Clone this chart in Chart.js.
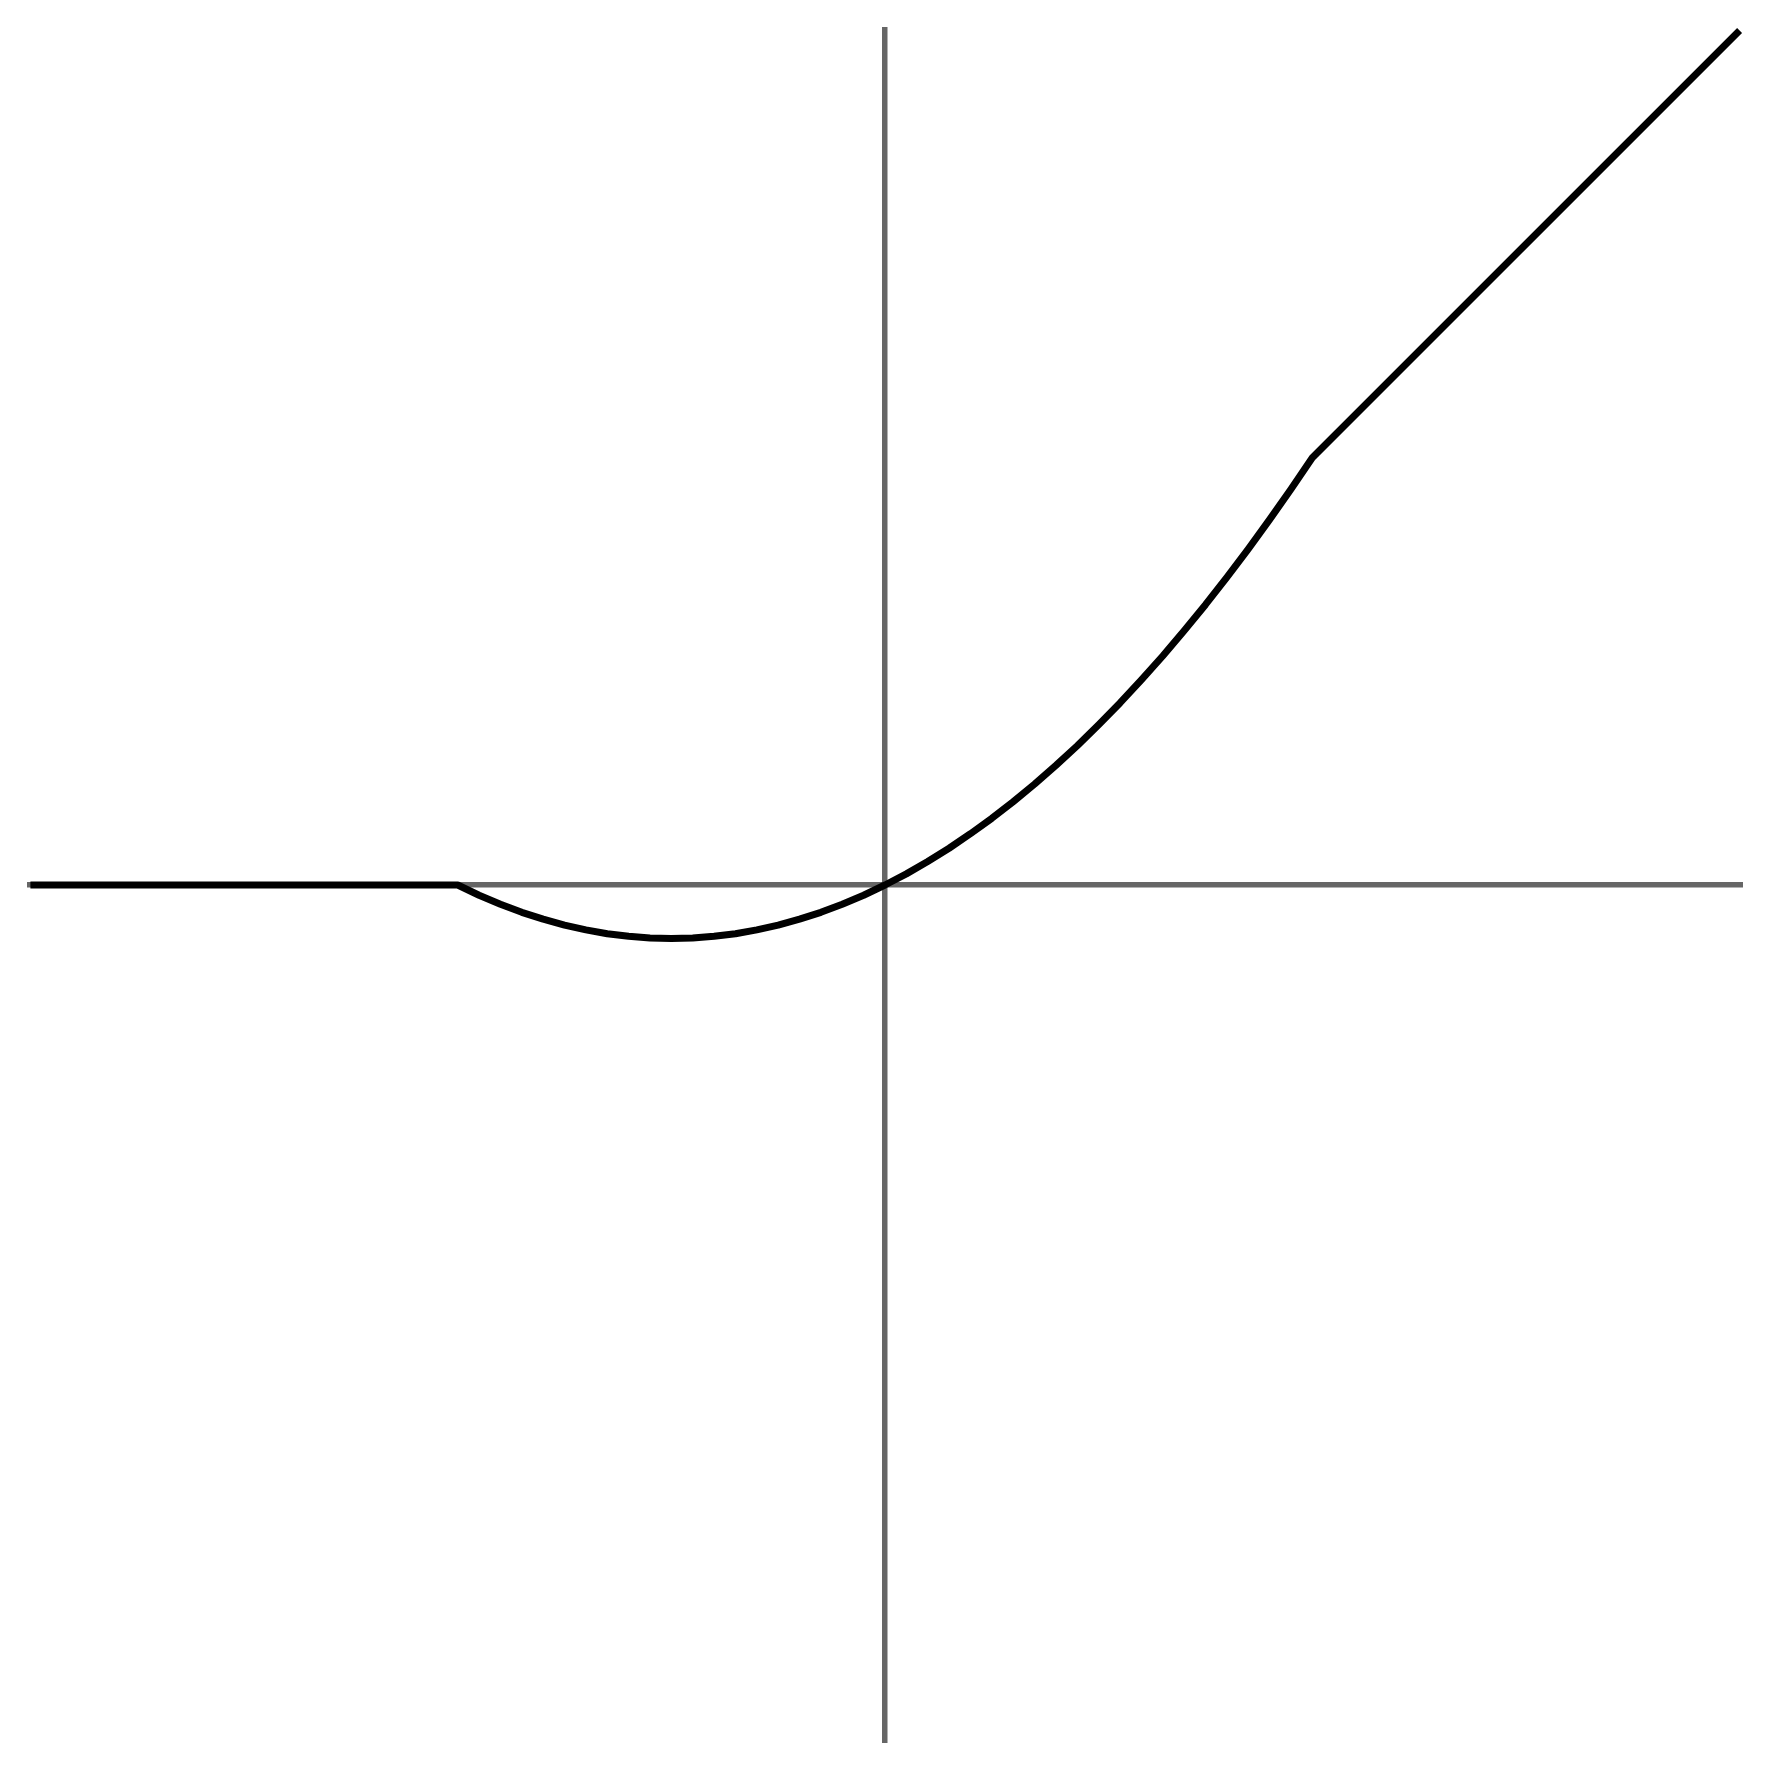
<!DOCTYPE html>
<html>
<head>
<meta charset="utf-8">
<script src="https://cdn.jsdelivr.net/npm/chart.js@4.4.1/dist/chart.umd.min.js"></script>
<style>
    html, body { margin: 0; padding: 0; background: #ffffff; }
    #wrap { width: 1770px; height: 1770px; }
</style>
</head>
<body>
<div id="wrap"><canvas id="curveChart" width="1770" height="1770"></canvas></div>
<script>
// Values
const xValues = [-2, -1, -0.95, -0.9, -0.85, -0.8, -0.75, -0.7, -0.65, -0.6, -0.55,
    -0.5, -0.45, -0.4, -0.35, -0.3, -0.25, -0.2, -0.15, -0.1, -0.05,
    0, 0.05, 0.1, 0.15, 0.2, 0.25, 0.3, 0.35, 0.4, 0.45,
    0.5, 0.55, 0.6, 0.65, 0.7, 0.75, 0.8, 0.85, 0.9, 0.95, 1, 2];
const yValues = [0, 0, -0.024, -0.045, -0.064, -0.08, -0.094, -0.105, -0.114, -0.12, -0.124,
    -0.125, -0.124, -0.12, -0.114, -0.105, -0.094, -0.08, -0.064, -0.045, -0.024,
    0, 0.026, 0.055, 0.086, 0.12, 0.156, 0.195, 0.236, 0.28, 0.326,
    0.375, 0.426, 0.48, 0.536, 0.595, 0.656, 0.72, 0.786, 0.855, 0.926, 1, 2];

const axisMin = -2.008;
const axisMax = 2.008;

const points = xValues.map((x, i) => ({ x: x, y: yValues[i] }));

// only the zero grid line is shown, as the axis cross
function zeroLine(ctx) {
    return ctx.tick && ctx.tick.value === 0 ? "#666666" : "rgba(0,0,0,0)";
}

const ctx = document.getElementById("curveChart").getContext("2d");
const curveChart = new Chart(ctx, {
    type: "line",
    data: {
        datasets: [
            {
                data: points,
                borderColor: "#000000",
                borderWidth: 7,
                borderJoinStyle: "round",
                pointRadius: 0,
                tension: 0,
                fill: false,
            },
        ],
    },
    options: {
        responsive: false,
        animation: false,
        devicePixelRatio: 1,
        layout: {
            padding: { left: 27, right: 27, top: 27, bottom: 27 },
        },
        plugins: {
            legend: { display: false },
            tooltip: { enabled: false },
        },
        scales: {
            x: {
                type: "linear",
                min: axisMin,
                max: axisMax,
                ticks: { display: false, stepSize: 1 },
                grid: { color: zeroLine, lineWidth: 5.5, drawTicks: false },
                border: { display: false },
            },
            y: {
                type: "linear",
                min: axisMin,
                max: axisMax,
                ticks: { display: false, stepSize: 1 },
                grid: { color: zeroLine, lineWidth: 5.5, drawTicks: false },
                border: { display: false },
            },
        },
    },
});
</script>
</body>
</html>
